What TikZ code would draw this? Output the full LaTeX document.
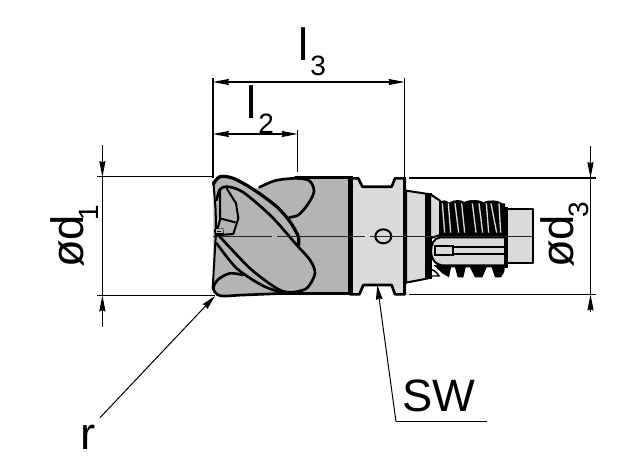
\documentclass[tikz,border=0pt]{standalone}
\usepackage{fontspec}
\setmainfont{Liberation Sans}
\usetikzlibrary{arrows.meta}
\definecolor{bodygray}{HTML}{B4B4B4}
\definecolor{neckgray}{HTML}{DADADA}
\tikzset{
  x=0.75pt,y=-0.75pt,
  dimline/.style={line width=0.8pt,draw=black},
  tipline/.style={line width=0.8pt,draw=black,-{Stealth[length=12pt,width=4.6pt,inset=1pt]}},
  leader/.style={line width=0.75pt,draw=black,-{Stealth[length=11pt,width=5pt,inset=1pt]}},
  biglabel/.style={anchor=base west,inner sep=0pt,font=\fontsize{34}{36}\selectfont},
  sublabel/.style={anchor=base west,inner sep=0pt,font=\fontsize{21}{24}\selectfont},
  toolline/.style={line width=2pt,draw=black,line join=round,line cap=round},
  thinedge/.style={line width=1.5pt,draw=black,line join=round,line cap=round},
  centerline/.style={line width=0.7pt,draw=black!85},
  zoomA/.style={shift={(200,160)},x=0.25pt,y=-0.25pt},
  zoomB/.style={shift={(350,160)},x=0.25pt,y=-0.25pt},
  zoomC/.style={shift={(425,190)},x=0.25pt,y=-0.25pt},
}
\begin{document}
\begin{tikzpicture}
\useasboundingbox (0,0) rectangle (625,467);
\fill[white] (0,0) rectangle (625,467);

% ---------- Neck, cone, shank
\begin{scope}[zoomB]
  \filldraw[fill=neckgray,toolline] (0,55) -- (25,55) -- (37,80) -- (125,80) -- (135,55) -- (164,55)
     -- (164,403) -- (135,403) -- (125,375) -- (40,375) -- (28,403) -- (0,403) -- cycle;
  \fill[black] (0,52) rectangle (10,406);
  \fill[black] (158,52) rectangle (168,406);
  \filldraw[fill=neckgray,thinedge] (168,92) -- (235,102) -- (235,355) -- (168,368) -- cycle;
  \fill[black] (232,100) rectangle (246,358);
  \filldraw[fill=neckgray,thinedge] (470,147) -- (548,147) -- (548,310) -- (470,310) -- cycle;
  \draw[line width=1.5pt] (100,229) circle[x radius=24,y radius=21];
\end{scope}

% ---------- Threaded part
\begin{scope}[zoomC]
  \filldraw[fill=neckgray,thinedge] (15,12) -- (45,32) -- (45,135) -- (15,145) -- cycle;
  \fill[black] (42,42) .. controls (50,28) and (62,28) .. (72,38)
     .. controls (85,28) and (110,28) .. (118,36)
     .. controls (130,28) and (165,28) .. (175,37)
     .. controls (190,28) and (220,30) .. (232,40)
     -- (240,40) -- (240,140) -- (42,140) -- cycle;
  \foreach \xa/\xb in {50/58,68/76,88/100,108/118,140/152,160/172,182/190,196/214,220/226}{
    \fill[neckgray] (\xa,40) -- (\xa+4,40) -- (\xb+3,128) -- (\xb-1,128) -- cycle;
  }
  \fill[black] (25,225) -- (240,225) -- (238,245) -- (228,262) -- (210,262) -- (200,232)
     -- (185,232) -- (172,262) -- (150,262) -- (135,232) -- (122,232) -- (115,262) -- (98,262)
     -- (90,232) -- (78,232) -- (72,262) -- (52,250) -- cycle;
  \filldraw[fill=neckgray,thinedge] (240,142) -- (45,142) .. controls (25,145) and (18,165) .. (18,185)
     .. controls (20,210) and (30,222) .. (50,226) -- (240,226) -- cycle;
  \filldraw[fill=neckgray,draw=black,line width=1.3pt] (30,167) rectangle (85,196);
  \draw[line width=1.7pt] (85,170) -- (238,170) (85,192) -- (238,192);
  \fill[black] (238,50) rectangle (248,235);
  \draw[line width=1.1pt] (0,240) .. controls (20,232) and (35,245) .. (42,258) -- (0,258);
  \fill[black] (0,10) -- (15,12) -- (15,262) -- (0,264) -- cycle;
\end{scope}

% ---------- Cutter head
\begin{scope}[zoomA]
  \fill[bodygray] (40,60) -- (60,50) -- (100,55) -- (160,88) -- (178,82) -- (225,62) -- (285,52) -- (450,50)
     -- (450,403) -- (250,400) -- (130,405) -- (60,408) -- (40,385) -- cycle;
  \draw[toolline] (285,52) -- (450,52);
  \draw[toolline] (240,400) -- (450,400);
  \fill[black] (445,48) rectangle (460,405);
  % upper back lobe
  \draw[toolline] plot[smooth] coordinates {(178,82) (225,62) (285,55) (328,62) (342,95) (322,135) (295,165) (268,172)};
  % main tooth
  \draw[line width=2.4pt,line join=round,line cap=round] plot[smooth] coordinates {(40,72) (60,50) (100,55) (160,88) (230,140) (270,185) (295,230) (295,258)};
  % big lobe
  \draw[toolline] plot[smooth] coordinates {(50,120) (60,88) (82,80) (130,97) (215,170) (290,255) (330,300) (345,340) (320,385) (270,397) (230,385) (150,325) (55,225)};
  % second line
  \draw[toolline] plot[smooth] coordinates {(50,250) (110,325) (190,378) (255,400)};
  % lower lobe
  \draw[toolline] plot[smooth] coordinates {(128,345) (90,340) (55,358) (40,385) (60,407) (130,405) (250,400)};
  % left edge
  \draw[thinedge] (40,65) -- (47,150) -- (48,215) -- (38,385);
  % insert
  \draw[thinedge] (60,90) -- (60,180) -- (50,215);
  \draw[thinedge] (80,85) -- (108,130) -- (115,175) -- (100,222) -- (60,225);
  \draw[thinedge] (60,175) -- (105,187);
  \fill[black] (42,208) -- (70,205) -- (72,230) -- (45,232) -- cycle;
  \draw[line width=1.1pt,draw=bodygray] (50,210) rectangle (66,217);
\end{scope}

% ---------- Centre line
\coordinate (cA) at (213,236); \coordinate (cB) at (272,236);
\coordinate (cC) at (277,236); \coordinate (cD) at (365,236);
\coordinate (cE) at (370,236); \coordinate (cF) at (533,236);
\draw[centerline] (cA) -- (cB) (cC) -- (cD) (cE) -- (cF);

% ---------- Extension lines
\coordinate (eL3) at (213,78);  \coordinate (eLb) at (213,178);
\coordinate (eR3) at (404.5,78); \coordinate (eRb) at (404.5,178);
\coordinate (eM3) at (297.5,130); \coordinate (eMb) at (297.5,172);
\draw[dimline] (eL3) -- (eLb) (eR3) -- (eRb) (eM3) -- (eMb);
\coordinate (h1a) at (97,176.7);  \coordinate (h1b) at (213,176.7);
\coordinate (h2a) at (97,295.5);  \coordinate (h2b) at (215,295.5);
\coordinate (h3a) at (409,178);   \coordinate (h3b) at (596,178);
\coordinate (h4a) at (409,294.5); \coordinate (h4b) at (596,294.5);
\draw[dimline] (h1a) -- (h1b) (h2a) -- (h2b) (h3a) -- (h3b) (h4a) -- (h4b);

% ---------- Dimension lines
\coordinate (l3a) at (213,82); \coordinate (l3b) at (404.5,82);
\coordinate (l2a) at (213,134); \coordinate (l2b) at (297.5,134);
\draw[dimline,{Stealth[length=12pt,width=4.6pt,inset=1pt]}-{Stealth[length=12pt,width=4.6pt,inset=1pt]}] (l3a) -- (l3b);
\draw[dimline,{Stealth[length=12pt,width=4.6pt,inset=1pt]}-{Stealth[length=12pt,width=4.6pt,inset=1pt]}] (l2a) -- (l2b);
\coordinate (d1t) at (102.4,145); \coordinate (d1a) at (102.4,177);
\coordinate (d1b) at (102.4,295.5); \coordinate (d1e) at (102.4,327);
\draw[tipline] (d1t) -- (d1a);
\draw[dimline] (d1a) -- (d1b);
\draw[tipline] (d1e) -- (d1b);
\coordinate (d3t) at (590.5,146); \coordinate (d3a) at (590.5,178);
\coordinate (d3b) at (590.5,294.5); \coordinate (d3e) at (590.5,312);
\draw[tipline] (d3t) -- (d3a);
\draw[dimline] (d3a) -- (d3b);
\draw[tipline] (d3e) -- (d3b);

% ---------- Leaders
\coordinate (rEnd) at (100,417.7); \coordinate (rTip) at (215,296);
\draw[leader] (rEnd) -- (rTip);
\coordinate (swTip) at (377.3,285); \coordinate (swKnee) at (396,421.7); \coordinate (swEnd) at (486.7,421.7);
\draw[leader] (swKnee) -- (swTip);
\draw[dimline] (swKnee) -- (swEnd);

% ---------- Labels
\node[biglabel] (tl3) at (298.5,61) {l};
\node[sublabel] (ts3) at (310,75) {3};
\node[biglabel] (tl2) at (246.5,118) {l};
\node[sublabel] (ts2) at (258,133) {2};
\node[biglabel,rotate=90] (td1) at (83,268) {ød};
\node[sublabel,rotate=90] (ts1) at (98,221) {1};
\node[biglabel,rotate=90] (td3) at (573,268) {ød};
\node[sublabel,rotate=90] (ts3b) at (588,218) {3};
\node[biglabel] (tr) at (80,449) {r};
\node[biglabel] (tsw) at (402,411) {SW};
\end{tikzpicture}
\end{document}
